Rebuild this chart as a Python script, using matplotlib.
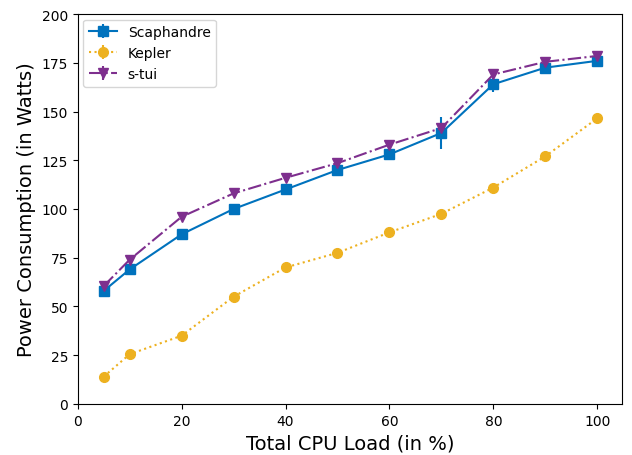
import numpy as np
import matplotlib.pyplot as plt

cpu_load = [5, 10, 20, 30, 40, 50, 60, 70, 80, 90, 100]
scaphandre = [58, 69, 87, 100, 110, 120, 128, 139, 164, 172.5, 176]
scaphandre_err = [1, 1, 1, 1, 1, 1, 1, 8, 4, 1, 1]
kepler = [14, 25.5, 35, 55, 70, 77.5, 88, 97.5, 111, 127, 146.5]
kepler_err = [0.5, 0.5, 0.5, 0.5, 0.5, 0.5, 0.5, 0.5, 0.5, 0.5, 0.5]
stui = [60.5, 74, 96, 108, 116, 123.5, 133, 141.5, 169, 175.5, 178.5]
stui_err = [0.5, 0.5, 0.5, 0.5, 0.5, 0.5, 0.5, 0.5, 0.5, 0.5, 0.5]

fig, ax = plt.subplots(figsize=(6.32, 4.56), dpi=100)
ax.errorbar(cpu_load, scaphandre, yerr=scaphandre_err, color='#0072BD', marker='s',
            ms=7, linestyle='-', label='Scaphandre')
ax.errorbar(cpu_load, kepler, yerr=kepler_err, color='#EDB120', marker='o',
            ms=7, linestyle=':', label='Kepler')
ax.errorbar(cpu_load, stui, yerr=stui_err, color='#7E2F8E', marker='v',
            ms=7, linestyle='-.', label='s-tui')

ax.set_ylim(0, 200)
ax.set_xlim(0, 104.75)
ax.set_xlabel('Total CPU Load (in %)', fontsize=14)
ax.set_ylabel('Power Consumption (in Watts)', fontsize=14)
ax.legend(loc='upper left', borderaxespad=0.4)
fig.subplots_adjust(left=0.123, right=0.984, top=0.967, bottom=0.112)
fig.savefig('out.png')
